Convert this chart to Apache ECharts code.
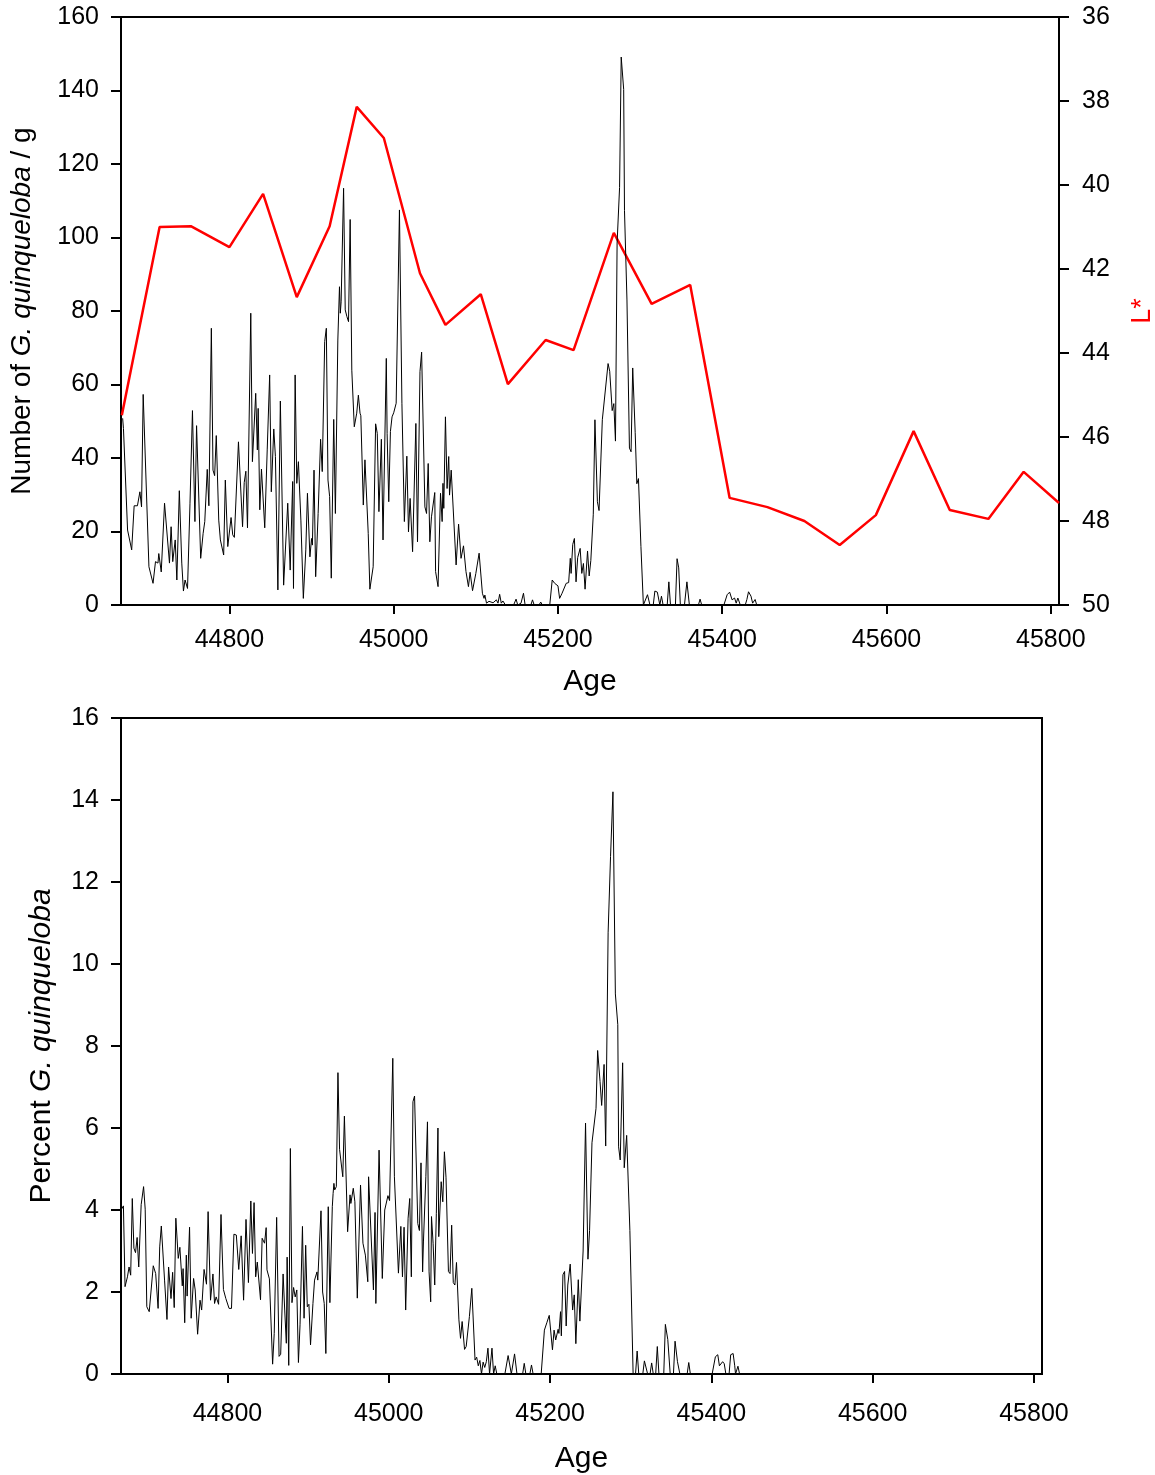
<!DOCTYPE html>
<html>
<head>
<meta charset="utf-8">
<script src="https://cdn.jsdelivr.net/npm/echarts@6/dist/echarts.min.js"></script>
<style>
html,body{margin:0;padding:0;background:#fff;}
#chart{width:1155px;height:1475px;}
</style>
</head>
<body>
<div id="chart"></div>
<script>
// ---- Tick labels ----
var xTicks = [44800, 45000, 45200, 45400, 45600, 45800];

// ---- Top panel: number of G. quinqueloba per gram ----
var ageCount = [44670,44671,44676,44681,44684,44688,44691,44693,44695,44702,44707,44710,44713,44714,44717,44721,44727,44729,44731,44734,44736,44739,44742,44744,44746,44749,44752,44755,44758,44760,44765,44768,44770,44773,44775,44778,44780,44782,44784,44787,44789,44793,44795,44798,44800,44802,44804,44806,44811,44816,44818,44820,44822,44826,44828,44830,44832,44834,44835,44837,44839,44843,44846,44847,44849,44851,44854,44856,44859,44862,
44866,44871,44874,44877,44878,44880,44882,44884,44887,44890,44893,44895,44898,44900,44901,44903,44905,44908,44911,44913,44916,44918,44920,44922,44924,44927,44929,44932,44934,44935,44936,44939,44941,44943,44945,44947,44949,44952,44955,44957,44959,44960,44963,44965,44967,44969,44971,44975,44978,44980,44982,44985,44987,44991,44992,44994,44996,44998,45000,45003,45007,45010,45013,45016,45018,45020,45023,45027,45029,45032,45034,45038,45040,45042,45044,45046,45050,45051,45054,45057,45059,45060,45061,45063,45065,45067,
45068,45070,45076,45079,45082,45085,45088,45091,45093,45096,45100,45104,45108,45110,45111,45113,45116,45118,45121,45125,45127,45129,45131,45133,45136,45146,45149,45151,45155,45158,45160,45167,45169,45171,45177,45179,45181,45190,45193,45196,45200,45202,45205,45207,45210,45213,45215,45216,45218,45220,45222,45224,45227,45229,45231,45233,45236,45238,
45240,45243,45245,45248,45250,45254,45256,45261,45263,45266,45268,45270,45272,45275,45277,45280,45281,45284,45287,45289,45291,45294,45296,45298,45301,45304,45306,45309,45312,45316,45318,45321,45324,45326,45328,45333,45335,45337,45343,45345,45347,45349,45354,45357,45360,45371,45373,45375,45402,45406,45409,45412,45415,45417,45419,45422,45428,45430,45432,45435,45437,45440,45442];
var countVals = [50.8,48,20.4,15,27,27,30.8,26.7,57.3,10.4,5.9,11.8,11.4,14,9,27.7,11.4,21.3,11.8,17.7,6.8,31.1,11.4,3.8,6.8,4.5,27.7,52.9,22.7,48.8,12.7,19.5,22.7,36.9,27,75.3,36.7,35.2,46.1,23.1,17.7,13.6,34,15.9,16.2,23.8,19.1,18.4,44.4,21.3,33.3,36.4,21,79.4,39,38.6,57.6,42.2,53.5,25.9,37,21,42.2,42.2,62.6,30.8,47.9,40.4,4.1,55.5,
5.4,27.7,9.5,33.6,4.5,62.6,33.1,39,23.1,1.8,15,30.4,13.1,18.1,16.3,36.7,7.7,24.9,45.1,36.3,71.7,75.3,34,29.5,7.3,50.5,24.9,72.1,86.6,79.4,82.5,113.4,80.3,78.5,77.1,104.9,63.9,48.5,52.2,57.1,52.2,51.5,27.2,39.5,39.5,19.5,4.3,10.4,49.3,46.7,25.4,45.1,17.7,67.1,46.7,28.1,47.2,51.2,52.3,54.9,107.5,54.9,22.7,40.5,19.9,29,14.5,49.4,17.2,63.5,68.8,26.7,24.9,38.5,17.2,24,30.6,9.1,5,30.4,22.7,33.1,26.3,51.2,31.7,40.4,
29.9,36.7,10.9,22,12.7,16.1,9.1,5,8.9,3.9,8.6,14.1,3.2,1.8,2.7,0.5,1,0.5,0.6,1.4,0.5,2.9,0.5,1.1,0,0,1.6,0,0.5,3.2,0,0,1.4,0,0,0.8,0,0,6.8,5.9,5.2,1.8,3.2,2.9,5.9,6.1,12.7,8.6,16.5,18.1,6.3,12.9,15.4,8.6,11.3,4.3,14.7,7.9,
12.1,24.7,50.4,28.1,25.7,50.4,50.4,65.7,63.6,52.9,54.8,44.6,98.5,113.6,149.1,140.3,107.3,83,42.7,41.7,64.5,47,33,34.4,15.9,0,0,2.8,0,0,3.8,3.5,0,2.4,0,0,6.3,0,0,12.6,10.1,0,0,6.3,0,0,1.6,0,0,2.8,3.5,1.4,1.9,0.5,1.9,0,0,1.5,3.6,2.4,0.5,1.5,0];

// ---- Top panel: L* (red, inverted right axis) ----
var ageL = [44669,44715,44753,44800,44841,44882,44922,44955,44988,45032,45063,45106,45139,45185,45219,45268,45314,45361,45409,45455,45500,45543,45587,45633,45677,45724,45767,45810];
var lStar = [45.48,41.0,40.98,41.48,40.21,42.67,40.98,38.14,38.88,42.1,43.33,42.6,44.74,43.69,43.93,41.14,42.83,42.38,47.45,47.67,48.0,48.57,47.86,45.86,47.74,47.95,46.83,47.57];

// ---- Bottom panel: percent G. quinqueloba ----
var agePct = [44668,44671,44673,44676,44678,44680,44682,44684,44686,44688,44690,44693,44696,44698,44700,44703,44705,44708,44711,44714,44716,44718,44722,44725,44727,44730,44732,44734,44736,44739,44741,44744,44745,44747,44749,44750,44753,44755,44758,44760,44763,44766,44768,44771,44774,44776,44779,44782,44784,44786,44789,44792,44795,44798,44802,44805,44808,44811,44814,44817,44820,44823,44826,44829,44831,44833,44835,44837,44841,44843,44846,44848,44849,44852,44856,44858,44861,44864,44866,
44869,44871,44873,44874,44876,44878,44880,44882,44884,44886,44888,44890,44893,44895,44897,44899,44901,44903,44906,44908,44911,44912,44916,44918,44920,44922,44925,44927,44930,44931,44932,44933,44935,44937,44939,44941,44943,44945,44949,44952,44953,44956,44958,44961,44965,44968,44971,44974,44975,44981,44983,44984,44988,44992,44995,44997,44999,45001,45005,45007,45012,45015,45017,45019,45021,45024,45026,45028,45030,45032,45036,45038,45040,45042,45043,45046,45048,45050,45052,45053,45055,45057,45059,45061,45062,45065,45067,45069,45071,45074,
45076,45078,45080,45082,45084,45087,45089,45091,45094,45096,45100,45103,45107,45109,45111,45113,45115,45117,45119,45121,45123,45125,45128,45130,45132,45134,45144,45148,45152,45153,45156,45159,45166,45168,45170,45175,45177,45179,45189,45193,45196,45199,45200,45203,45205,45207,45210,45211,
45213,45214,45216,45218,45220,45222,45225,45228,45230,45232,45235,45237,45241,45244,45247,45249,45252,45254,45257,45259,45262,45264,45267,45269,45272,45275,45278,45281,45284,45285,45287,45290,45292,45295,45299,45303,45306,45308,45310,45315,45317,45319,45321,45324,45326,45328,45331,45333,45335,45341,45343,45346,45349,45353,45355,45358,45361,45370,45372,45374,45401,45405,45408,45410,45412,45414,45416,45418,45422,45424,45427,45429,45430,45433,45435];
var pctVals = [4.0,4.1,2.13,2.37,2.61,2.41,4.28,3.07,2.96,3.33,2.61,4.13,4.57,4.02,1.64,1.52,1.56,2.64,2.45,1.6,3.1,3.61,2.29,1.33,2.61,1.84,2.48,1.62,3.8,2.82,3.09,2.15,2.57,1.25,2.9,1.9,3.58,1.36,2.33,2.05,0.97,1.8,1.56,2.55,2.19,3.96,1.8,2.44,1.72,1.88,1.7,3.89,2.06,1.84,1.6,1.6,3.41,3.39,2.55,3.37,1.8,3.77,2.23,4.22,2.94,4.18,2.37,2.73,1.81,3.31,3.19,3.57,2.54,2.32,0.24,0.99,3.82,0.43,0.48,
2.44,1.56,0.75,2.85,0.21,5.5,1.74,2.11,1.88,2.05,0.28,1.2,3.6,1.36,3.14,1.64,1.7,0.71,1.72,2.29,2.49,2.29,3.98,2.0,1.72,0.5,4.08,1.74,4.08,4.4,4.65,4.49,4.57,7.35,5.48,5.48,4.81,6.29,3.47,4.37,4.16,4.53,4.2,1.85,4.61,3.19,2.9,2.25,4.81,2.05,3.94,1.72,5.46,2.33,4.0,4.0,4.35,4.23,7.7,4.81,2.46,3.6,2.37,3.58,1.56,3.8,4.28,2.37,6.64,6.78,3.67,3.5,5.15,2.49,3.22,4.81,6.15,2.49,1.76,3.84,3.19,2.17,3.92,6.0,3.35,4.69,4.2,5.42,4.8,2.5,
2.45,3.63,2.23,2.17,2.72,1.32,0.87,1.28,0.6,0.67,1.4,2.09,0.34,0.41,0.2,0.33,0,0.29,0.16,0.3,0.63,0,0.63,0,0.2,0,0,0.45,0,0,0.49,0,0,0.26,0,0,0.22,0,0,1.07,1.25,1.43,1.46,0.59,1.07,0.83,1.09,0.99,
1.52,0.93,2.42,2.5,1.17,2.17,2.68,1.56,1.93,0.74,2.3,1.29,3.0,6.12,2.8,3.5,5.64,5.6,6.48,7.89,7.13,6.55,7.55,5.56,10.76,12.62,14.2,9.27,8.52,5.54,5.22,7.59,5.03,5.82,3.5,0,0,0.56,0,0,0.32,0.3,0,0,0.27,0,0,0.67,0,0,1.21,0.84,0,0,0.8,0.3,0,0,0.28,0,0,0.42,0.47,0.2,0.23,0.3,0.25,0,0,0.47,0.5,0.2,0,0.19,0];

function zip(a, b) { var r = []; for (var i = 0; i < a.length; i++) r.push([a[i], b[i]]); return r; }

var FONT = '"Liberation Sans", Arial, sans-serif';
var AX = { color: '#000', width: 2 };
function plain(v) { return String(v); }

function xAxisCfg(grid, gap, margin) {
  return {
    gridIndex: grid, type: 'value', min: 44668, max: 45810,
    name: 'Age', nameLocation: 'middle', nameGap: gap,
    nameTextStyle: { color: '#000', fontSize: 30, fontFamily: FONT },
    axisLine: { show: true, onZero: false, lineStyle: AX },
    axisTick: { show: true, customValues: xTicks, length: 9, lineStyle: AX },
    axisLabel: { customValues: xTicks, formatter: plain, color: '#000', fontSize: 25, fontFamily: FONT, margin: margin },
    splitLine: { show: false }
  };
}

var option = {
  animation: false,
  backgroundColor: '#fff',
  grid: [
    { left: 121, top: 17, width: 938, height: 588, show: true, borderColor: '#000', borderWidth: 2, containLabel: false, outerBoundsMode: 'none' },
    { left: 121, top: 718, width: 921, height: 656, show: true, borderColor: '#000', borderWidth: 2, containLabel: false, outerBoundsMode: 'none' }
  ],
  xAxis: [ xAxisCfg(0, 62, 23), xAxisCfg(1, 70, 28) ],
  yAxis: [
    {
      gridIndex: 0, type: 'value', min: 0, max: 160, interval: 20, position: 'left',
      name: 'Number of {i|G. quinqueloba} / g', nameLocation: 'middle', nameGap: 85,
      nameTextStyle: { color: '#000', fontSize: 28, fontFamily: FONT,
        rich: { i: { fontStyle: 'italic', fontSize: 28, fontFamily: FONT, color: '#000' } } },
      axisLine: { show: true, lineStyle: AX },
      axisTick: { show: true, length: 10, lineStyle: AX },
      axisLabel: { formatter: plain, color: '#000', fontSize: 25, fontFamily: FONT, margin: 22 },
      splitLine: { show: false }
    },
    {
      gridIndex: 0, type: 'value', min: 36, max: 50, interval: 2, position: 'right', inverse: true,
      name: 'L*', nameLocation: 'middle', nameGap: 70,
      nameTextStyle: { color: '#ff0000', fontSize: 27, fontFamily: FONT },
      axisLine: { show: true, lineStyle: AX },
      axisTick: { show: true, length: 10, lineStyle: AX },
      axisLabel: { formatter: plain, color: '#000', fontSize: 25, fontFamily: FONT, margin: 23 },
      splitLine: { show: false }
    },
    {
      gridIndex: 1, type: 'value', min: 0, max: 16, interval: 2, position: 'left',
      name: 'Percent {i|G. quinqueloba}', nameLocation: 'middle', nameGap: 64,
      nameTextStyle: { color: '#000', fontSize: 30, fontFamily: FONT,
        rich: { i: { fontStyle: 'italic', fontSize: 30, fontFamily: FONT, color: '#000' } } },
      axisLine: { show: true, lineStyle: AX },
      axisTick: { show: true, length: 10, lineStyle: AX },
      axisLabel: { formatter: plain, color: '#000', fontSize: 25, fontFamily: FONT, margin: 22 },
      splitLine: { show: false }
    }
  ],
  series: [
    {
      type: 'line', xAxisIndex: 0, yAxisIndex: 0, data: zip(ageCount, countVals),
      symbol: 'none', lineStyle: { color: '#000', width: 1 }, z: 3
    },
    {
      type: 'line', xAxisIndex: 0, yAxisIndex: 1, data: zip(ageL, lStar),
      symbol: 'none', lineStyle: { color: '#ff0000', width: 2.5 }, z: 2
    },
    {
      type: 'line', xAxisIndex: 1, yAxisIndex: 2, data: zip(agePct, pctVals),
      symbol: 'none', lineStyle: { color: '#000', width: 1 }, z: 3
    }
  ]
};

var chart = echarts.init(document.getElementById('chart'), null, { renderer: 'canvas' });
chart.setOption(option);
</script>
</body>
</html>
